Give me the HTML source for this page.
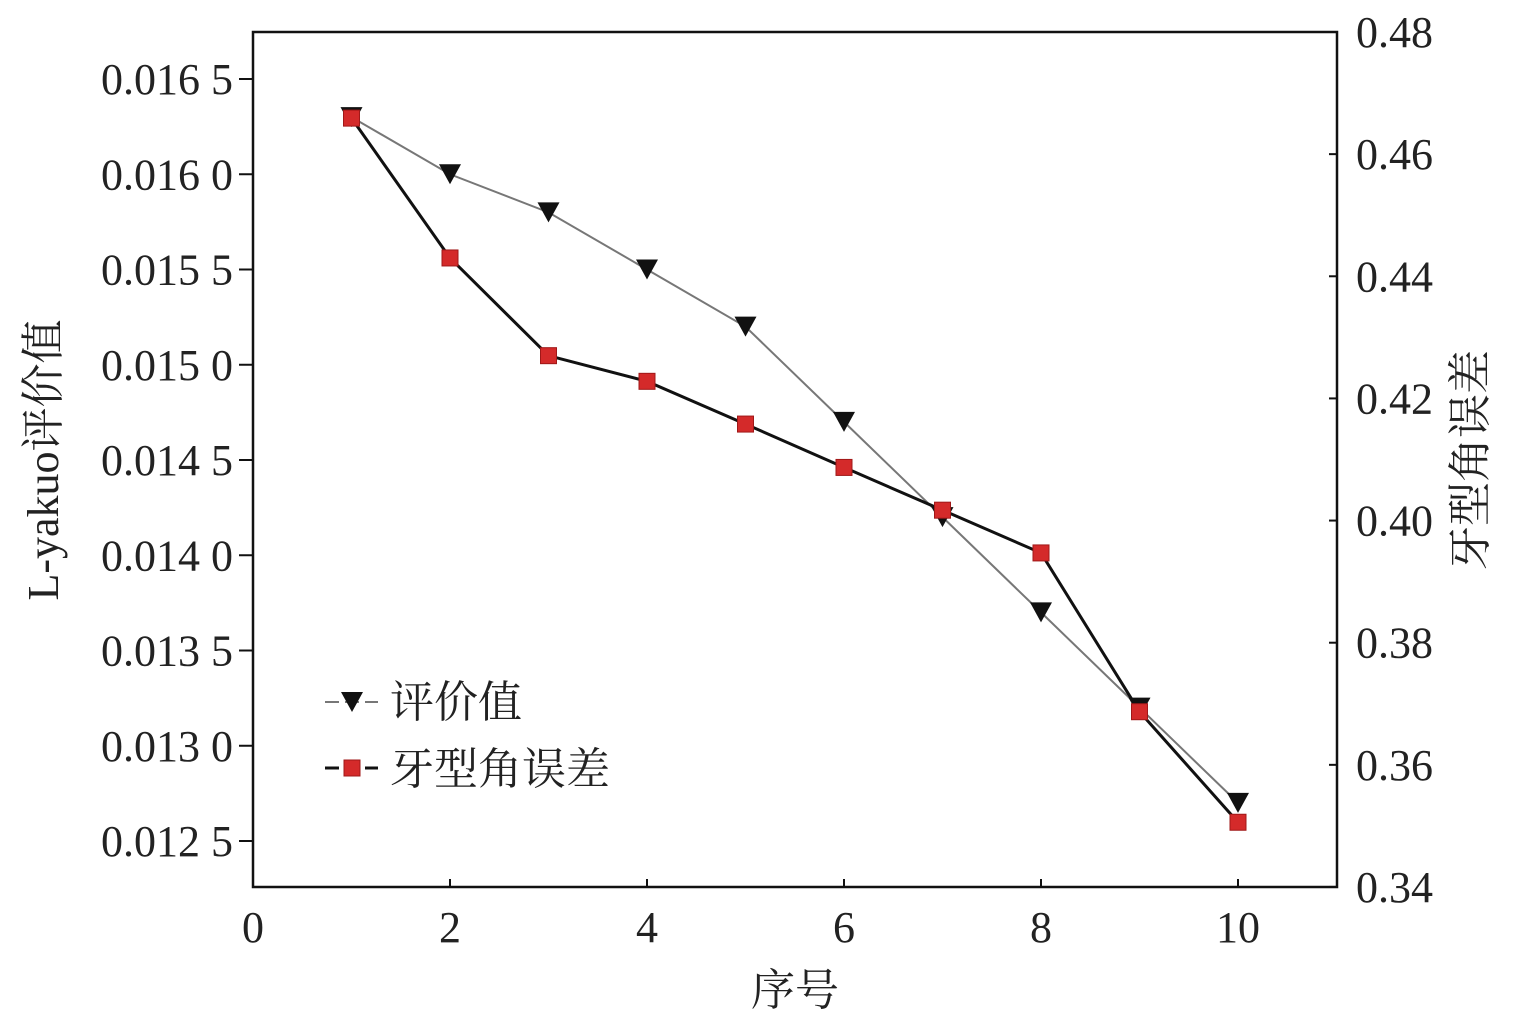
<!DOCTYPE html>
<html><head><meta charset="utf-8"><style>
body{margin:0;background:#fff;}
svg text{font-family:"Liberation Serif","Noto Serif CJK SC",serif;fill:#222;}
</style></head><body>
<svg width="1535" height="1026" id="chart">
</svg>
<script>
const categories=[1,2,3,4,5,6,7,8,9,10];
const evalValues=[0.0163,0.0160,0.0158,0.0155,0.0152,0.0147,0.0142,0.0137,0.0132,0.0127];
const angleErrors=[0.4659,0.443,0.427,0.4228,0.4158,0.4087,0.4017,0.3947,0.3687,0.3506];
const xTicks=[0,2,4,6,8,10];
const leftTicks=[0.0125,0.0130,0.0135,0.0140,0.0145,0.0150,0.0155,0.0160,0.0165];
const leftTickLabels=["0.012 5","0.013 0","0.013 5","0.014 0","0.014 5","0.015 0","0.015 5","0.016 0","0.016 5"];
const rightTicks=[0.34,0.36,0.38,0.40,0.42,0.44,0.46,0.48];
const rightTickLabels=["0.34","0.36","0.38","0.40","0.42","0.44","0.46","0.48"];

const L=253,R=1337,T=32,B=887;
const xS=v=>L+v*(985/10);
const yL=v=>79+(0.0165-v)/0.0005*95.25;
const yR=v=>T+(0.48-v)/0.02*122.14;
const svg=document.getElementById('chart');
const NS='http://www.w3.org/2000/svg';
function mk(tag,attrs,parent){const e=document.createElementNS(NS,tag);for(const k in attrs)e.setAttribute(k,attrs[k]);(parent||svg).appendChild(e);return e;}

let e=mk('rect',{x:L,y:T,width:R-L,height:B-T,fill:'none',stroke:'#111','stroke-width':2.5});



xTicks.forEach(v=>{
  let t=mk('line',{x1:xS(v),x2:xS(v),y1:B,y2:B-8,stroke:'#111','stroke-width':2});
  
  
  let l=mk('text',{x:xS(v),y:B+55,'text-anchor':'middle','font-size':44});
  l.textContent=v;
  
  
});
leftTicks.forEach((v,i)=>{
  let t=mk('line',{x1:L,x2:L-14,y1:yL(v),y2:yL(v),stroke:'#111','stroke-width':2});
  
  
  let l=mk('text',{x:233,y:yL(v)+15,'text-anchor':'end','font-size':44});
  l.textContent=leftTickLabels[i];
  
  
});
rightTicks.forEach((v,i)=>{
  let t=mk('line',{x1:R,x2:R-8,y1:yR(v),y2:yR(v),stroke:'#111','stroke-width':2});
  
  
  let l=mk('text',{x:1356,y:yR(v)+15,'font-size':44});
  l.textContent=rightTickLabels[i];
  
  
});

let xt=mk('text',{x:795,y:1005,'text-anchor':'middle','font-size':44});
xt.textContent='序号';


let yt=mk('text',{x:0,y:0,'text-anchor':'middle','font-size':44,transform:'translate(58,460) rotate(-90)'});
yt.textContent='L-yakuo评价值';


let rt=mk('text',{x:0,y:0,'text-anchor':'middle','font-size':44,transform:'translate(1485,460) rotate(-90)',fill:'#444'});
rt.textContent='牙型角误差';



function tri(x,y,g){return mk('path',{d:`M${x-11},${y-10} L${x+11},${y-10} L${x},${y+10} Z`,fill:'#111'},g);}
function sq(x,y,g){return mk('rect',{x:x-8,y:y-8,width:16,height:16,fill:'#d42a2a',stroke:'#a01818','stroke-width':1},g);}

let p1=mk('polyline',{points:categories.map((c,i)=>xS(c)+','+yL(evalValues[i])).join(' '),fill:'none',stroke:'#777','stroke-width':2});


let p2=mk('polyline',{points:categories.map((c,i)=>xS(c)+','+yR(angleErrors[i])).join(' '),fill:'none',stroke:'#111','stroke-width':3});


categories.forEach((c,i)=>{
  let m=tri(xS(c),yL(evalValues[i]));
  
  
});
categories.forEach((c,i)=>{
  let m=sq(xS(c),yR(angleErrors[i]));
  
  
});

// legend
let lg=mk('g',{});


let l1=mk('line',{x1:325,x2:378,y1:702,y2:702,stroke:'#777','stroke-width':2,'stroke-dasharray':'14,6'},lg);


tri(352,702,lg);
let t1=mk('text',{x:390,y:717,'font-size':44},lg);
t1.textContent='评价值';


let l2=mk('line',{x1:325,x2:378,y1:768,y2:768,stroke:'#111','stroke-width':3,'stroke-dasharray':'14,6'},lg);


sq(352,768,lg);
let t2=mk('text',{x:390,y:784,'font-size':44},lg);
t2.textContent='牙型角误差';


</script>
</body></html>
